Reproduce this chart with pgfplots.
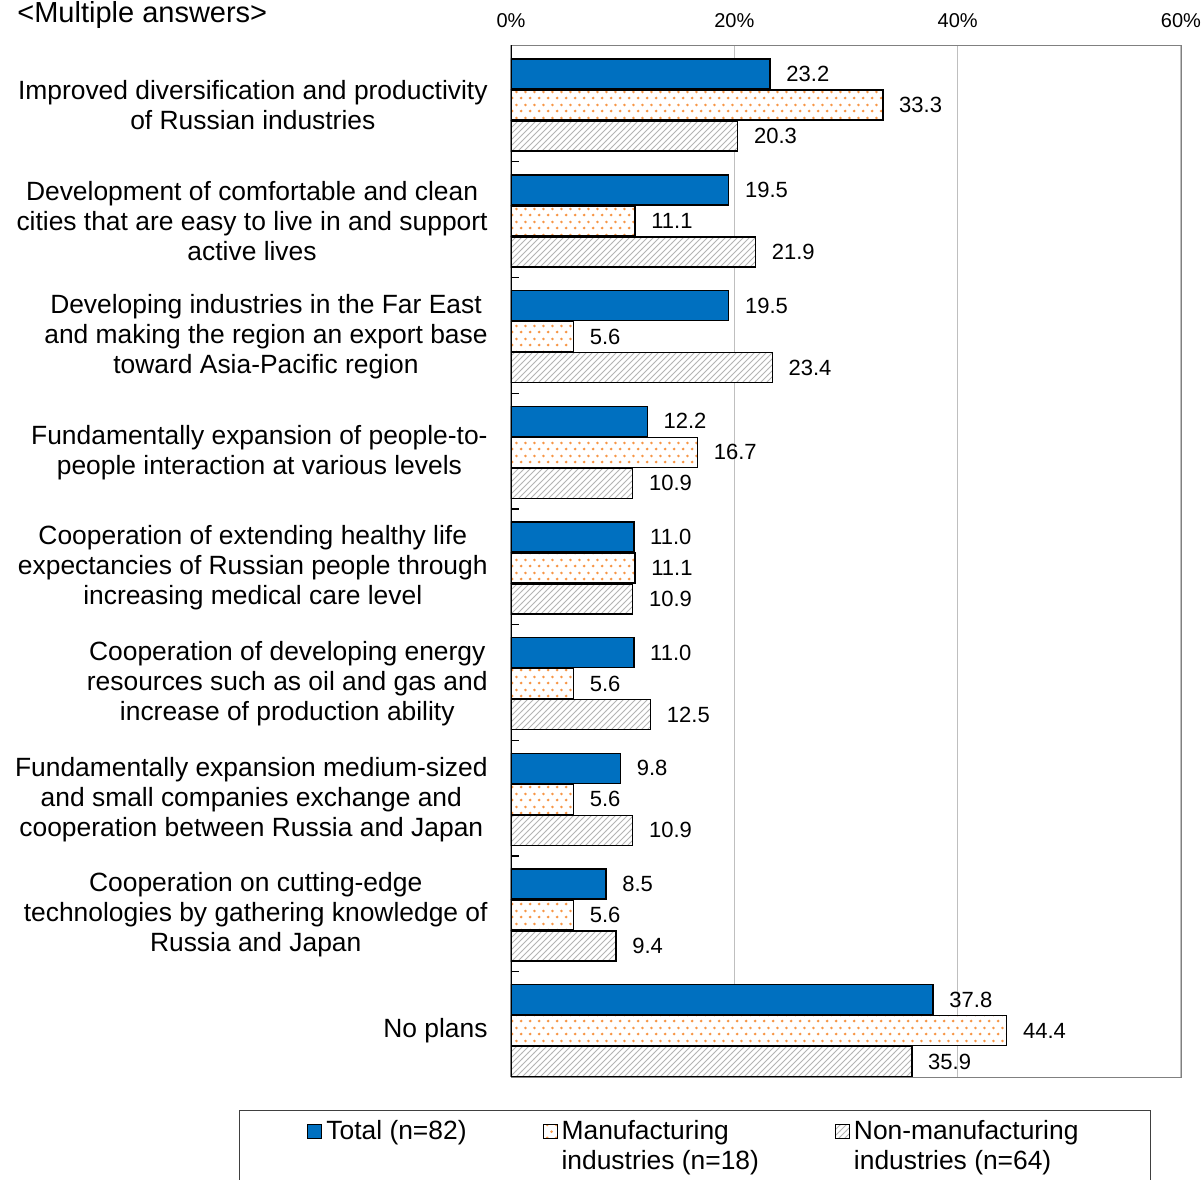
\documentclass[border=0pt]{standalone}
\usepackage{pgfplots}
\pgfplotsset{compat=1.18}
\usepackage{fontspec}
\setmainfont{Liberation Sans}
\usetikzlibrary{patterns,patterns.meta}

\definecolor{totblue}{HTML}{0070C0}
\definecolor{mfgorange}{HTML}{F79646}
\definecolor{hatchgray}{HTML}{B4B4B4}
\definecolor{gridgray}{HTML}{BFBFBF}

% staggered orange dots like the Excel fill
\tikzdeclarepattern{
  name=orangedots, type=uncolored,
  bottom left={(0pt,0pt)}, top right={(4.4pt,6.5pt)}, tile size={(4.4pt,6.5pt)},
  code={
    \pgfpathcircle{\pgfpoint{1.1pt}{1.6pt}}{0.75pt}
    \pgfpathcircle{\pgfpoint{3.3pt}{4.85pt}}{0.75pt}
    \pgfusepath{fill}
  }
}

\pgfplotstableread{
cat total mfg nonmfg
0 23.2 33.3 20.3
1 19.5 11.1 21.9
2 19.5 5.6 23.4
3 12.2 16.7 10.9
4 11.0 11.1 10.9
5 11.0 5.6 12.5
6 9.8 5.6 10.9
7 8.5 5.6 9.4
8 37.8 44.4 35.9
}\answers

\begin{document}
\begin{tikzpicture}
\begin{axis}[
  scale only axis,
  width=335pt, height=516pt,
  xbar, bar width=15pt,
  xmin=0, xmax=60,
  ymin=-0.52, ymax=8.40,
  y dir=reverse,
  axis line style={gray},
  xtick={0,20,40,60},
  xticklabel pos=upper,
  xticklabel={\pgfmathprintnumber{\tick}\%},
  xticklabel style={font=\fontsize{10}{12}\selectfont, yshift=5pt},
  /pgf/number format/assume math mode=true,
  major x tick style={draw=none},
  xmajorgrids, grid style={gridgray, line width=0.6pt},
  tick align=inside,
  ytick pos=left,
  ytick={0,...,8},
  major y tick style={draw=none},
  minor ytick={0.49,1.49,...,7.49},
  minor tick length=4pt,
  minor y tick style={black, line width=0.6pt},
  yticklabel style={align=center, inner sep=0pt, xshift=-11.5pt,
    font=\fontsize{13.2}{15}\selectfont},
  yticklabels={
    {Improved diversification and productivity\\of Russian industries},
    {Development of comfortable and clean\\cities that are easy to live in and support\\active lives},
    {Developing industries in the Far East\\and making the region an export base\\toward Asia-Pacific region},
    {Fundamentally expansion of people-to-\\people interaction at various levels},
    {Cooperation of extending healthy life\\expectancies of Russian people through\\increasing medical care level},
    {Cooperation of developing energy\\resources such as oil and gas and\\increase of production ability},
    {Fundamentally expansion medium-sized\\and small companies exchange and\\cooperation between Russia and Japan},
    {Cooperation on cutting-edge\\technologies by gathering knowledge of\\Russia and Japan},
    {No plans}},
  nodes near coords={\pgfmathprintnumber[fixed,fixed zerofill,precision=1]{\pgfplotspointmeta}},
  every node near coord/.append style={font=\fontsize{11}{13}\selectfont, black, xshift=4.5pt},
  legend columns=3,
  legend cell align=left,
  legend style={at={(axis description cs:0.2746,-0.032)}, anchor=north,
    draw=black!75, line width=0.5pt, inner xsep=34pt, inner ysep=3pt,
    font=\fontsize{13.2}{15}\selectfont, cells={align=left},
    /tikz/every even column/.append style={column sep=36pt}},
  legend image code/.code={\draw[#1, line width=0.5pt] (0pt,4pt) rectangle (7pt,11pt);},
]
\addplot[fill=totblue, draw=black, line width=0.7pt, bar shift=15.5pt]
  table[x=total, y=cat] {\answers};
\addlegendentry{Total (n=82)\\\mbox{}}
\addplot[fill=white, draw=black, line width=0.7pt, bar shift=0pt,
  postaction={pattern={orangedots}, pattern color=mfgorange}]
  table[x=mfg, y=cat] {\answers};
\addlegendentry{Manufacturing\\industries (n=18)}
\addplot[fill=white, draw=black, line width=0.7pt, bar shift=-15.5pt,
  postaction={pattern=north east lines, pattern color=hatchgray}]
  table[x=nonmfg, y=cat] {\answers};
\addlegendentry{Non-manufacturing\\industries (n=64)}
\draw[black, line width=0.8pt] (rel axis cs:0,0) -- (rel axis cs:0,1);
\end{axis}
\node[anchor=west, inner sep=0pt, font=\fontsize{14.5}{16}\selectfont] at (-247pt,531pt) {<Multiple answers>};
\pgfresetboundingbox
\path[use as bounding box] (-255.5pt,-51pt) rectangle (345.5pt,538.5pt);
\end{tikzpicture}
\end{document}
